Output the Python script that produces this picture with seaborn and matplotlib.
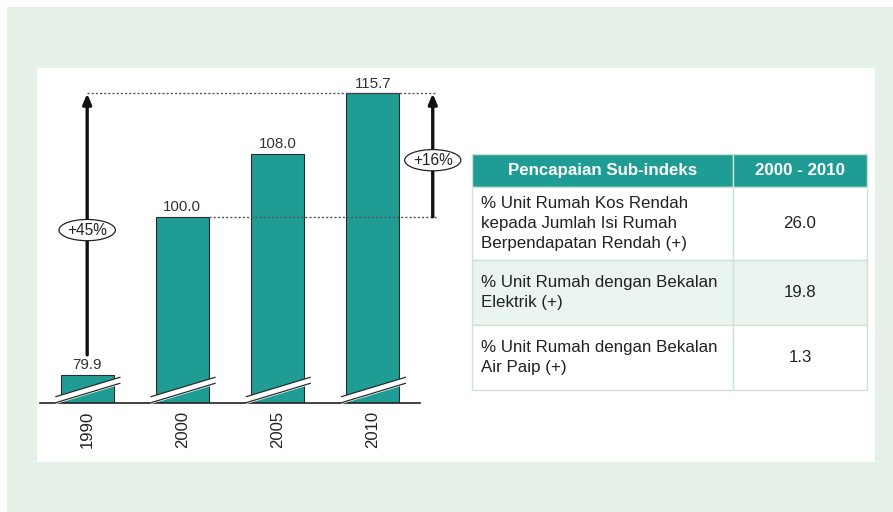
import matplotlib.pyplot as plt
import seaborn as sns
from matplotlib.patches import Rectangle
from matplotlib.table import Table
from matplotlib.transforms import blended_transform_factory

# chart data
years = ["1990", "2000", "2005", "2010"]
index_values = [79.9, 100.0, 108.0, 115.7]
growth_labels = ["+45%", "+16%"]

# table data
table_header = ["Pencapaian Sub-indeks", "2000 - 2010"]
table_items = [
    "% Unit Rumah Kos Rendah\nkepada Jumlah Isi Rumah\nBerpendapatan Rendah (+)",
    "% Unit Rumah dengan Bekalan\nElektrik (+)",
    "% Unit Rumah dengan Bekalan\nAir Paip (+)",
]
table_values = [26.0, 19.8, 1.3]

TEAL = "#1f9d94"
BG_GREEN = "#e6f2e8"
ROW_GREEN = "#e9f5ee"
GRID = "#cde3d8"
DARK = "#222222"

sns.set_style("white")
plt.rcParams["font.family"] = ["Liberation Sans", "DejaVu Sans"]

W, H = 893, 512
fig = plt.figure(figsize=(W / 100, H / 100), dpi=100)
fig.patch.set_facecolor("white")

# page background and white panel
fig.patches.append(Rectangle((7 / W, 0), 1 - 7 / W, 1 - 7 / H, transform=fig.transFigure,
                             facecolor=BG_GREEN, edgecolor="none", zorder=-3))
fig.patches.append(Rectangle((37 / W, 50 / H), 838 / W, 394 / H, transform=fig.transFigure,
                             facecolor="white", edgecolor="none", zorder=-2))

# ---- bar chart ----
ax = fig.add_axes([37 / W, (H - 402.7) / H, 418 / W, 334.7 / H])
ax.patch.set_alpha(0)
sns.barplot(x=years, y=index_values, color=TEAL, saturation=1, width=0.56,
            edgecolor="#2b2b2b", linewidth=0.8, ax=ax)

y_low = 76.31
ax.set_ylim(y_low, y_low + 334.7 / 7.85)
ax.set_xlim(-0.527, -0.527 + 418 / 95.2)

for s in ["top", "right", "left"]:
    ax.spines[s].set_visible(False)
ax.spines["bottom"].set_color(DARK)
ax.spines["bottom"].set_linewidth(1.2)
ax.spines["bottom"].set_bounds(-0.5, 3.5)
ax.set_yticks([])
ax.set_xticks(range(len(years)))
ax.set_xticklabels(years, rotation=90, fontsize=12, color=DARK)
ax.tick_params(axis="x", length=0, pad=6)
ax.set_xlabel("")
ax.set_ylabel("")

# value labels
for i, v in enumerate(index_values):
    ax.annotate(f"{v:.1f}", (i, v), xytext=(0, 4.3), textcoords="offset points",
                ha="center", va="baseline", fontsize=10.9, color="#333333")

# axis-break marks on each bar
trans = blended_transform_factory(ax.transData, ax.transAxes)
for i in range(len(years)):
    xs = [i - 0.33, i + 0.345]
    lo = [0.0, 0.058]
    hi = [0.018, 0.076]
    ax.fill_between(xs, lo, hi, color="white", transform=trans, zorder=4, clip_on=False)
    ax.plot(xs, lo, color="#2b2b2b", lw=0.9, transform=trans, zorder=5, clip_on=False)
    ax.plot(xs, hi, color="#2b2b2b", lw=0.9, transform=trans, zorder=5, clip_on=False)

# dotted reference lines
x_right = 3.67
ax.hlines(index_values[3], 0, x_right, colors="#555555", linestyles=(0, (1.5, 1.5)), lw=1, zorder=2)
ax.hlines(index_values[1], 1 + 0.28, x_right, colors="#555555", linestyles=(0, (1.5, 1.5)), lw=1, zorder=2)

arrow_kw = dict(arrowstyle="-|>,head_length=0.6,head_width=0.25", color="#111111",
                lw=2.4, shrinkA=0, shrinkB=0)
ellipse_kw = dict(boxstyle="ellipse,pad=0.0", fc="white", ec=DARK, lw=0.9)

# 1990 -> 2010 growth
ax.annotate("", xy=(0, index_values[3]), xytext=(0, index_values[0] + 2.5), arrowprops=arrow_kw, zorder=3)
ax.text(0, 98.3, growth_labels[0], ha="center", va="center", fontsize=11.2, color=DARK,
        bbox=ellipse_kw, zorder=6)

# 2000 -> 2010 growth
x_arr = 3.63
ax.annotate("", xy=(x_arr, index_values[3]), xytext=(x_arr, index_values[1]), arrowprops=arrow_kw, zorder=3)
ax.text(x_arr, 107.2, growth_labels[1], ha="center", va="center", fontsize=11.2, color=DARK,
        bbox=ellipse_kw, zorder=6)

# ---- table ----
tax = fig.add_axes([472 / W, (H - 390) / H, 395 / W, 236 / H])
tax.axis("off")
col_widths = [261, 134]
row_heights = [33, 73, 65, 65]
tbl = Table(tax, bbox=[0, 0, 1, 1])
for c, label in enumerate(table_header):
    cell = tbl.add_cell(0, c, col_widths[c], row_heights[0], text=label, loc="center",
                        facecolor=TEAL, edgecolor=GRID)
    cell.get_text().set_color("white")
    cell.get_text().set_fontweight("bold")
for r, (item, val) in enumerate(zip(table_items, table_values), start=1):
    fc = ROW_GREEN if r == 2 else "white"
    cell = tbl.add_cell(r, 0, col_widths[0], row_heights[r], text=item, loc="left",
                        facecolor=fc, edgecolor=GRID)
    cell.PAD = 0.036
    cell.get_text().set_color(DARK)
    cell.get_text().set_linespacing(1.42)
    cell = tbl.add_cell(r, 1, col_widths[1], row_heights[r], text=f"{val:.1f}", loc="center",
                        facecolor=fc, edgecolor=GRID)
    cell.get_text().set_color(DARK)
tbl.auto_set_font_size(False)
tbl.set_fontsize(12.2)
for cell in tbl.get_celld().values():
    cell.set_linewidth(1.0)
tax.add_table(tbl)

fig.savefig("out.png", dpi=100, facecolor=fig.get_facecolor())
